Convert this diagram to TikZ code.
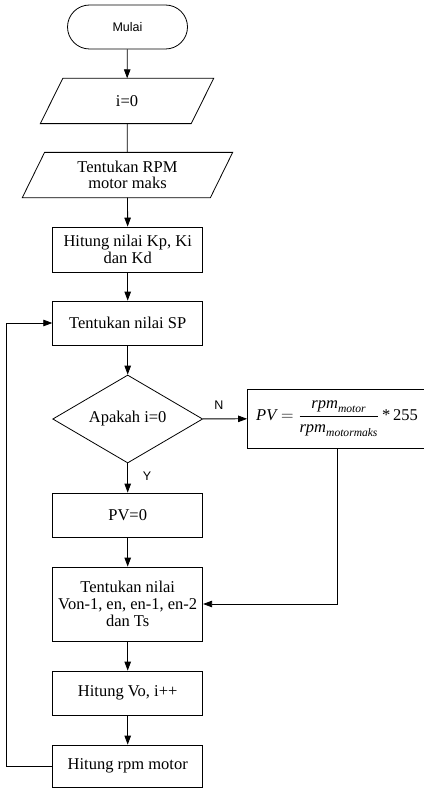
\documentclass[tikz,border=0pt]{standalone}
\usepackage{amsmath}
\usepackage{fontspec}
\setmainfont{Liberation Serif}
\setsansfont{Liberation Sans}
\usetikzlibrary{shapes.geometric,arrows.meta}

\tikzset{
  proses/.style={draw, rectangle, minimum width=150pt, minimum height=44pt,
    inner sep=2pt, align=center, font=\fontsize{16.5}{16.7}\selectfont},
  terminal/.style={draw, rectangle, rounded corners=22pt, minimum width=120pt,
    minimum height=44pt, font=\sffamily\fontsize{12.5}{14}\selectfont},
  keputusan/.style={draw, diamond, aspect=1.7, minimum width=150pt,
    minimum height=88pt, inner sep=0pt, font=\fontsize{16.5}{16.7}\selectfont},
  masukan/.style={rectangle, minimum height=44.5pt, inner sep=0pt,
    align=center, font=\fontsize{16.5}{16.7}\selectfont},
  ket/.style={font=\sffamily\fontsize{12.5}{14}\selectfont}
}

\begin{document}
\begin{tikzpicture}[x=1pt,y=-1pt,line width=0.8pt,
    >={Triangle[length=9pt,width=6.5pt]}]
  \useasboundingbox (0,0) rectangle (423,789);

  \node[terminal] (mulai) at (127.5,27) {Mulai};
  \node[masukan,minimum width=172.6pt] (init) at (127,101) {i=0};
  \draw ([xshift=22.5pt]init.north west) -- (init.north east)
     -- ([xshift=-22.5pt]init.south east) -- (init.south west) -- cycle;
  \node[masukan,minimum width=209.6pt] (rpmmaks) at (127.5,175)
     {Tentukan RPM\\motor maks};
  \draw ([xshift=22.3pt]rpmmaks.north west) -- (rpmmaks.north east)
     -- ([xshift=-22.3pt]rpmmaks.south east) -- (rpmmaks.south west) -- cycle;
  \node[proses,minimum height=45pt] (gain) at (127.7,249.5) {Hitung nilai Kp, Ki\\dan Kd};
  \node[proses] (setsp) at (127.7,323) {Tentukan nilai SP};
  \node[keputusan] (cek) at (127.7,419) {Apakah i=0};
  \node[proses,minimum width=179pt,minimum height=59pt] (pvcalc) at (337,418.7)
     {$\displaystyle \textit{PV} = \frac{\textit{rpm}_{\textit{motor}}}{\textit{rpm}_{\textit{motormaks}}}\,\text{*\,255}$};
  \node[proses] (pvnol) at (127.7,515) {PV=0};
  \node[proses,minimum height=74pt] (param) at (127.7,604)
     {Tentukan nilai\\Von-1, en, en-1, en-2\\dan Ts};
  \node[proses] (hitvo) at (127.7,693) {Hitung Vo, i++};
  \node[proses,minimum height=42pt] (hitrpm) at (127.7,766) {Hitung rpm motor};

  \node[ket] (lbln) at (219,405) {N};
  \node[ket] (lbly) at (147,476) {Y};

  \draw[->] (mulai) -- (init);
  \draw (init) -- (rpmmaks);
  \draw[->] (rpmmaks) -- (gain);
  \draw[->] (gain) -- (setsp);
  \draw[->] (setsp) -- (cek);
  \draw[->] (cek) -- (pvcalc);
  \draw[->] (cek) -- (pvnol);
  \draw[->] (pvnol) -- (param);
  \draw[->] (pvcalc.south) |- (param.east);
  \draw[->] (param) -- (hitvo);
  \draw[->] (hitvo) -- (hitrpm);
  \draw[->] (hitrpm.west) -- ++(-45.5,0) |- (setsp.west);
\end{tikzpicture}
\end{document}
